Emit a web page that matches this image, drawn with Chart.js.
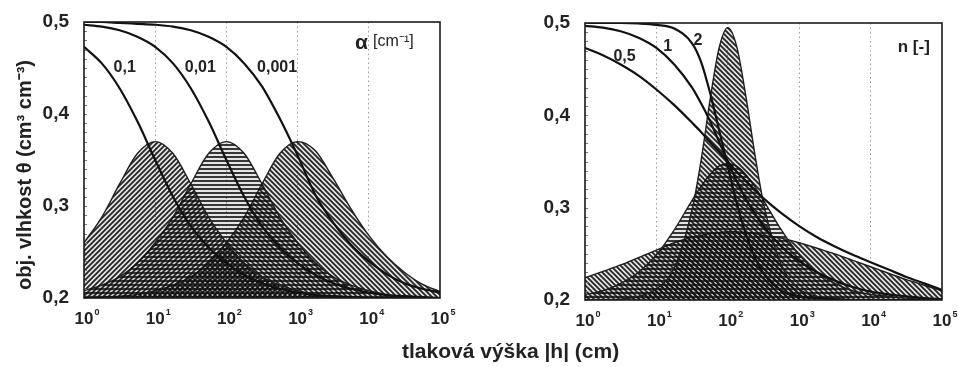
<!DOCTYPE html>
<html>
<head>
<meta charset="utf-8">
<script src="https://cdn.jsdelivr.net/npm/chart.js@4.4.1/dist/chart.umd.min.js"></script>
<style>
  body { margin: 0; background: #fff; width: 958px; height: 367px; overflow: hidden; position: relative; font-family: "Liberation Sans", Arial, sans-serif; }
  #leftChart { position: absolute; left: 0; top: 0; }
  #rightChart { position: absolute; left: 480px; top: 0; }
  #xTitle { position: absolute; left: 402px; top: 339px; font-size: 21px; font-weight: bold; color: #222; line-height: 24px; white-space: nowrap; }
</style>
</head>
<body>
<canvas id="leftChart" width="480" height="367"></canvas>
<canvas id="rightChart" width="478" height="367"></canvas>
<div id="xTitle">tlaková výška |h| (cm)</div>
<script>
// pressure head |h| (cm), quarter decades
const hLeft = [1, 1.78, 3.16, 5.62, 10, 17.8, 31.6, 56.2, 100, 178, 316, 562, 1000, 1780, 3160, 5620, 10000, 17800, 31600, 56200, 100000];
// retention curves, alpha = 0.1 / 0.01 / 0.001
const thetaA01 = [0.473, 0.455, 0.428, 0.392, 0.350, 0.310, 0.278, 0.255, 0.238, 0.225, 0.216, 0.210, 0.206, 0.203, 0.202, 0.201, 0.200, 0.200, 0.200, 0.200, 0.200];
const thetaA001 = [0.497, 0.495, 0.491, 0.484, 0.473, 0.455, 0.428, 0.392, 0.350, 0.310, 0.278, 0.255, 0.238, 0.225, 0.216, 0.210, 0.206, 0.203, 0.202, 0.201, 0.200];
const thetaA0001 = [0.500, 0.500, 0.499, 0.498, 0.497, 0.495, 0.491, 0.484, 0.473, 0.455, 0.430, 0.395, 0.355, 0.312, 0.282, 0.258, 0.240, 0.226, 0.216, 0.210, 0.206];
// hatched bells
const bellA01 = [0.260, 0.288, 0.324, 0.357, 0.370, 0.357, 0.324, 0.288, 0.260, 0.238, 0.223, 0.214, 0.208, 0.204, 0.202, 0.201, 0.200, 0.200, 0.200, 0.200, 0.200];
const bellA001 = [0.208, 0.214, 0.223, 0.238, 0.260, 0.288, 0.324, 0.357, 0.370, 0.357, 0.324, 0.288, 0.260, 0.238, 0.223, 0.214, 0.208, 0.204, 0.202, 0.201, 0.200];
const bellA0001 = [0.200, 0.201, 0.202, 0.204, 0.208, 0.214, 0.223, 0.238, 0.260, 0.288, 0.324, 0.357, 0.370, 0.360, 0.330, 0.297, 0.268, 0.245, 0.228, 0.215, 0.207];

// right panel, denser around 10^2
const hRight = [1, 1.78, 3.16, 5.62, 10, 17.8, 31.6, 42.2, 56.2, 75, 100, 133, 178, 237, 316, 562, 1000, 1780, 3160, 5620, 10000, 17800, 31600, 56200, 100000];
const thetaN05 = [0.473, 0.465, 0.455, 0.443, 0.428, 0.411, 0.392, 0.382, 0.371, 0.361, 0.350, 0.339, 0.329, 0.319, 0.310, 0.294, 0.280, 0.268, 0.258, 0.249, 0.241, 0.233, 0.225, 0.218, 0.211];
const thetaN1 = [0.497, 0.495, 0.491, 0.484, 0.473, 0.455, 0.430, 0.413, 0.394, 0.372, 0.350, 0.329, 0.310, 0.294, 0.280, 0.258, 0.242, 0.230, 0.221, 0.214, 0.209, 0.206, 0.204, 0.202, 0.201];
const thetaN2 = [0.500, 0.500, 0.500, 0.4995, 0.498, 0.494, 0.478, 0.458, 0.425, 0.385, 0.345, 0.305, 0.272, 0.247, 0.229, 0.210, 0.204, 0.202, 0.201, 0.200, 0.200, 0.200, 0.200, 0.200, 0.200];
const bellN2 = [0.200, 0.200, 0.201, 0.204, 0.212, 0.235, 0.298, 0.351, 0.416, 0.472, 0.495, 0.475, 0.422, 0.360, 0.305, 0.238, 0.212, 0.204, 0.201, 0.200, 0.200, 0.200, 0.200, 0.200, 0.200];
const bellN1 = [0.206, 0.210, 0.218, 0.230, 0.249, 0.276, 0.308, 0.323, 0.336, 0.345, 0.348, 0.345, 0.336, 0.323, 0.308, 0.276, 0.249, 0.230, 0.218, 0.210, 0.206, 0.204, 0.202, 0.201, 0.201];
const bellN05 = [0.224, 0.231, 0.238, 0.246, 0.254, 0.262, 0.268, 0.270, 0.272, 0.273, 0.274, 0.274, 0.273, 0.272, 0.270, 0.267, 0.262, 0.256, 0.250, 0.243, 0.236, 0.229, 0.222, 0.216, 0.210];

const xTicks = [1, 10, 100, 1000, 10000, 100000];
const xTickExp = ['0', '1', '2', '3', '4', '5'];
const yTicks = [0.2, 0.3, 0.4, 0.5];

const leftLabels = [
  { text: '0,1', h: 2.6, theta: 0.45, font: 'bold 16px "Liberation Sans", Arial' },
  { text: '0,01', h: 26, theta: 0.45, font: 'bold 16px "Liberation Sans", Arial' },
  { text: '0,001', h: 270, theta: 0.45, font: 'bold 16px "Liberation Sans", Arial' },
  { text: 'α', h: 6400, theta: 0.477, font: 'bold 21px "Liberation Sans", Arial' },
  { text: '[cm⁻¹]', h: 11500, theta: 0.479, font: '16px "Liberation Sans", Arial' }
];
const rightLabels = [
  { text: '0,5', h: 2.5, theta: 0.464, font: 'bold 16px "Liberation Sans", Arial' },
  { text: '1', h: 12.5, theta: 0.474, font: 'bold 16px "Liberation Sans", Arial' },
  { text: '2', h: 33, theta: 0.481, font: 'bold 16px "Liberation Sans", Arial' },
  { text: 'n [-]', h: 24000, theta: 0.474, font: 'bold 17px "Liberation Sans", Arial' }
];

function hatch(kind) {
  const s = kind === 'h' ? 4 : 5;
  const c = document.createElement('canvas');
  c.width = s; c.height = s;
  const g = c.getContext('2d');
  g.fillStyle = 'rgba(70,70,70,0.14)';
  g.fillRect(0, 0, s, s);
  g.strokeStyle = 'rgba(15,15,15,0.9)';
  g.lineWidth = 1.8;
  g.beginPath();
  if (kind === 'h') {
    g.moveTo(0, 1); g.lineTo(s, 1);
  } else if (kind === 'up') {
    g.moveTo(-1, s + 1); g.lineTo(s + 1, -1);
    g.moveTo(-2, 2); g.lineTo(2, -2);
    g.moveTo(s - 2, s + 2); g.lineTo(s + 2, s - 2);
  } else {
    g.moveTo(-1, -1); g.lineTo(s + 1, s + 1);
    g.moveTo(-2, s - 2); g.lineTo(2, s + 2);
    g.moveTo(s - 2, -2); g.lineTo(s + 2, 2);
  }
  g.stroke();
  return g.createPattern(c, 'repeat');
}
const patUp = hatch('up');
const patDown = hatch('down');
const patHoriz = hatch('h');

function pts(hs, vals) {
  return hs.map((h, i) => ({ x: h, y: vals[i] }));
}
function curve(hs, vals) {
  return { data: pts(hs, vals), borderColor: '#111', borderWidth: 2.2, pointRadius: 0, fill: false, cubicInterpolationMode: 'monotone' };
}
function bell(hs, vals, pattern) {
  return { data: pts(hs, vals), borderColor: '#1e1e1e', borderWidth: 1.4, pointRadius: 0, fill: 'start', backgroundColor: pattern, cubicInterpolationMode: 'monotone' };
}

// frame, inner minor ticks, x tick labels with small exponents, in-plot labels
const framePlugin = {
  id: 'frame',
  afterDatasetsDraw(chart, args, opts) {
    const { ctx, chartArea: a, scales: { x, y } } = chart;
    ctx.save();
    ctx.strokeStyle = '#777';
    ctx.lineWidth = 1;
    for (let k = 20; k <= 50; k++) {
      const py = Math.round(y.getPixelForValue(k / 100)) + 0.5;
      ctx.beginPath(); ctx.moveTo(a.left, py); ctx.lineTo(a.left + 3, py); ctx.stroke();
    }
    ctx.strokeStyle = '#1a1a1a';
    ctx.lineWidth = 1.6;
    ctx.strokeRect(a.left, a.top, a.right - a.left, a.bottom - a.top);
    ctx.fillStyle = '#222';
    ctx.textBaseline = 'alphabetic';
    xTicks.forEach((v, i) => {
      const px = x.getPixelForValue(v);
      ctx.font = 'bold 17px "Liberation Sans", Arial';
      const w = ctx.measureText('10').width;
      ctx.textAlign = 'center';
      ctx.fillText('10', px, a.bottom + 26);
      ctx.font = 'bold 9px "Liberation Sans", Arial';
      ctx.textAlign = 'left';
      ctx.fillText(xTickExp[i], px + w / 2 + 1, a.bottom + 17);
    });
    ctx.textBaseline = 'middle';
    opts.labels.forEach(l => {
      ctx.font = l.font;
      ctx.fillText(l.text, x.getPixelForValue(l.h), y.getPixelForValue(l.theta));
    });
    if (opts.yTitle) {
      ctx.font = 'bold 20px "Liberation Sans", Arial';
      ctx.textAlign = 'center';
      ctx.translate(25, 175);
      ctx.rotate(-Math.PI / 2);
      ctx.fillText(opts.yTitle, 0, 0);
    }
    ctx.restore();
  }
};

function makeOptions(pad, yWidth, xHeight, labels, yTitle) {
  return {
    responsive: false,
    animation: false,
    layout: { padding: pad },
    plugins: { legend: { display: false }, tooltip: { enabled: false }, frame: { labels: labels, yTitle: yTitle } },
    scales: {
      x: {
        type: 'logarithmic', min: 1, max: 100000,
        afterBuildTicks: ax => { ax.ticks = xTicks.map(v => ({ value: v })); },
        afterFit: ax => { ax.height = xHeight; },
        ticks: { display: false },
        grid: { drawTicks: false, lineWidth: 1, color: c => (c.tick && (c.tick.value === 1 || c.tick.value === 100000)) ? 'rgba(0,0,0,0)' : '#9a9a9a', borderDash: [1.5, 3] },
        border: { display: false, dash: [1.5, 3] }
      },
      y: {
        min: 0.2, max: 0.5,
        afterBuildTicks: ax => { ax.ticks = yTicks.map(v => ({ value: v })); },
        afterFit: ax => { ax.width = yWidth; },
        ticks: { padding: 7, color: '#222', font: { family: '"Liberation Sans", Arial', size: 19, weight: 'bold' }, callback: v => v.toFixed(1).replace('.', ',') },
        grid: { display: false },
        border: { display: false }
      }
    }
  };
}

new Chart(document.getElementById('leftChart'), {
  type: 'line',
  data: {
    datasets: [
      curve(hLeft, thetaA01), curve(hLeft, thetaA001), curve(hLeft, thetaA0001),
      bell(hLeft, bellA01, patUp), bell(hLeft, bellA001, patHoriz), bell(hLeft, bellA0001, patDown)
    ]
  },
  options: makeOptions({ top: 22, right: 40, left: 0, bottom: 0 }, 84, 69, leftLabels, 'obj. vlhkost θ (cm³ cm⁻³)'),
  plugins: [framePlugin]
});

new Chart(document.getElementById('rightChart'), {
  type: 'line',
  data: {
    datasets: [
      curve(hRight, thetaN05), curve(hRight, thetaN1), curve(hRight, thetaN2),
      bell(hRight, bellN2, patDown), bell(hRight, bellN1, patHoriz), bell(hRight, bellN05, patDown)
    ]
  },
  options: makeOptions({ top: 23, right: 16, left: 0, bottom: 0 }, 105, 67, rightLabels, null),
  plugins: [framePlugin]
});
</script>
</body>
</html>
